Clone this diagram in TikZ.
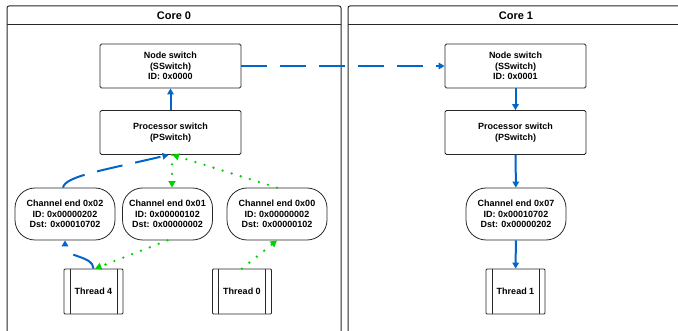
\documentclass[tikz,border=0pt]{standalone}
\usepackage{fontspec}
\setmainfont{Liberation Sans}
\usetikzlibrary{arrows.meta}

\definecolor{linkblue}{RGB}{0,102,204}
\definecolor{linkgreen}{RGB}{0,210,0}
\definecolor{framegray}{RGB}{40,40,40}

\tikzset{
    boxtext/.style={align=center, text=black, font=\fontsize{9}{10.7}\selectfont\bfseries},
    switchbox/.style={boxtext, draw=framegray, line width=0.8pt, fill=white, rounded corners=1.5pt,
        minimum width=141pt, minimum height=44pt},
    chanend/.style={boxtext, draw=framegray, line width=0.8pt, fill=white, rounded corners=20pt,
        minimum width=100pt, minimum height=52pt, inner sep=1pt},
    threadbox/.style={boxtext, draw=framegray, line width=0.8pt, fill=white, rounded corners=1pt,
        minimum width=59pt, minimum height=45pt,
        path picture={
            \draw[framegray, line width=0.8pt]
                ([xshift=6pt]path picture bounding box.north west) -- ([xshift=6pt]path picture bounding box.south west)
                ([xshift=-6pt]path picture bounding box.north east) -- ([xshift=-6pt]path picture bounding box.south east);
        }},
    coretitle/.style={text=black, font=\fontsize{11}{13}\selectfont\bfseries},
    bluelink/.style={draw=linkblue, line width=2pt, -{Triangle[length=6pt,width=6.5pt]}},
    longdash/.style={dash pattern=on 26pt off 13pt},
    greenlink/.style={draw=linkgreen, line width=2.6pt, line cap=round, dash pattern=on 0pt off 9.5pt,
        -{Triangle[length=6.5pt,width=7pt]}},
}

\begin{document}
\begin{tikzpicture}[x=1pt, y=-1pt]

    \useasboundingbox (0,0) rectangle (678,331);

    % Core frames with header strip
    \foreach \left/\right/\n in {7/341/0, 348/684/1} {
        \draw[framegray, line width=1pt, rounded corners=2pt] (\left, 345) -- (\left, 6) -- (\right, 6) -- (\right, 345);
        \draw[framegray, line width=1pt] (\left, 25) -- (\right, 25);
    }
    \node[coretitle] (core0title) at (174, 15.5) {Core 0};
    \node[coretitle] (core1title) at (516, 15.5) {Core 1};

    % Core 0
    \node[switchbox] (node0) at (170.5, 66) {Node switch\\(SSwitch)\\ID: 0x0000};
    \node[switchbox] (proc0) at (170.5, 132.5) {Processor switch\\(PSwitch)};

    \node[chanend] (ch02) at (65, 214) {Channel end 0x02\\ID: 0x00000202\\Dst: 0x00010702};
    \node[chanend, minimum width=90pt] (ch01) at (167.5, 214) {Channel end 0x01\\ID: 0x00000102\\Dst: 0x00000002};
    \node[chanend] (ch00) at (277, 214) {Channel end 0x00\\ID: 0x00000002\\Dst: 0x00000102};

    \node[threadbox] (thread4) at (93.5, 291.5) {Thread 4};
    \node[threadbox] (thread0) at (242, 291.5) {Thread 0};

    % Core 1
    \node[switchbox] (node1) at (515.5, 66) {Node switch\\(SSwitch)\\ID: 0x0001};
    \node[switchbox] (proc1) at (515.5, 132.5) {Processor switch\\(PSwitch)};
    \node[chanend] (ch07) at (516, 214) {Channel end 0x07\\ID: 0x00010702\\Dst: 0x00000202};
    \node[threadbox] (thread1) at (515.5, 291.5) {Thread 1};

    % Links inside core 0
    \draw[bluelink] (proc0) -- (node0);
    \draw[bluelink, longdash] ([xshift=-2pt]ch02.north) .. controls (65, 176) and (105, 170) .. ([xshift=-2pt]proc0.south);
    \draw[bluelink, longdash] (thread4.north) .. controls (93, 255) and (65, 258) .. (ch02.south);
    \draw[greenlink] ([xshift=1.5pt]proc0.south) -- ([xshift=1.5pt]proc0.south |- ch01.north);
    \draw[greenlink] (ch00.north) -- ([xshift=2pt]proc0.south);
    \draw[greenlink] (ch01.south) -- ([xshift=1.5pt]thread4.north);
    \draw[greenlink] (thread0.north) -- (ch00.south);

    % Link between the cores
    \draw[bluelink, longdash] (node0) -- (node1);

    % Links inside core 1
    \draw[bluelink] (node1) -- (proc1);
    \draw[bluelink] (proc1) -- (ch07);
    \draw[bluelink] (ch07) -- (thread1);

\end{tikzpicture}
\end{document}
